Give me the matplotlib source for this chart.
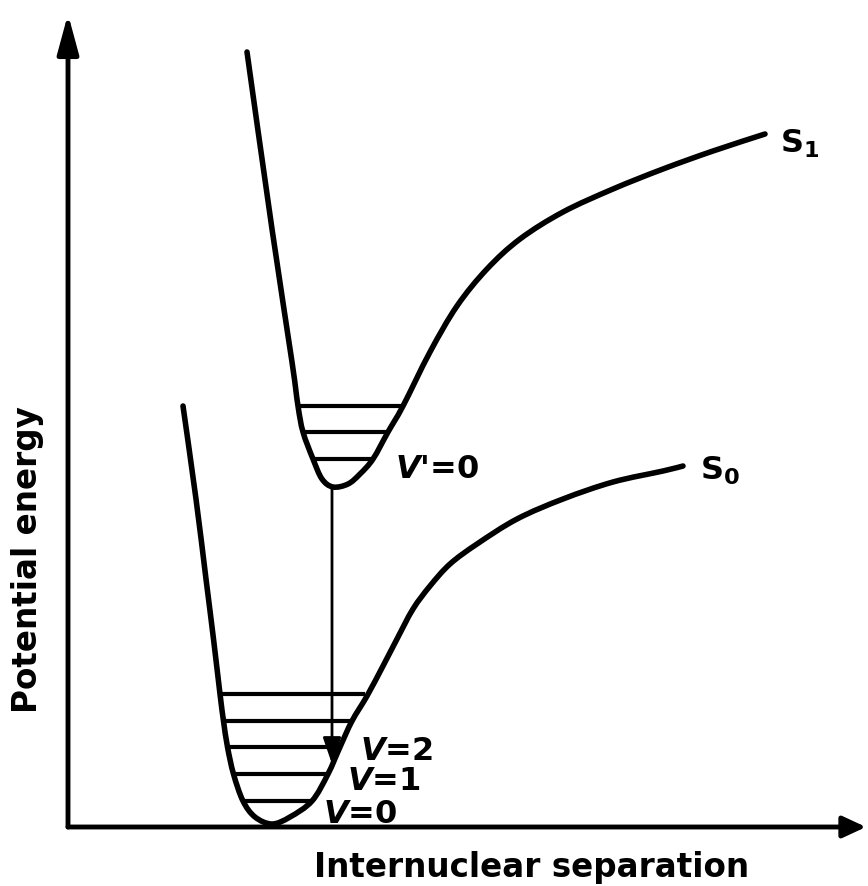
import numpy as np
import matplotlib
matplotlib.use("Agg")
import matplotlib.pyplot as plt
from matplotlib.path import Path
from matplotlib.patches import PathPatch

plt.rcParams["mathtext.fontset"] = "custom"
plt.rcParams["mathtext.it"] = "DejaVu Sans:italic:bold"
plt.rcParams["mathtext.rm"] = "DejaVu Sans:bold"

###############################################################################
# Potential energy curves (separation, energy), arbitrary units
s0_r = [1.15, 1.28, 1.38, 1.455, 1.52, 1.555, 1.595, 1.655, 1.75, 1.87,
        2.04, 2.22, 2.44, 2.60, 2.72, 2.84, 2.99, 3.15, 3.29, 3.45, 3.62,
        3.82, 4.09, 4.49, 4.95, 5.45, 5.95, 6.15]
s0_e = [4.21, 3.28, 2.48, 1.88, 1.33, 1.06, 0.80, 0.53, 0.26, 0.10, 0.03,
        0.10, 0.26, 0.53, 0.80, 1.06, 1.31, 1.61, 1.88, 2.18, 2.41, 2.63,
        2.83, 3.08, 3.28, 3.45, 3.56, 3.61]

s1_r = [1.79, 2.04, 2.24, 2.30, 2.35, 2.45, 2.54, 2.65, 2.80, 2.92, 3.05,
        3.20, 3.35, 3.62, 3.89, 4.19, 4.52, 4.95, 5.45, 5.95, 6.45, 6.97]
s1_e = [7.75, 5.98, 4.65, 4.21, 3.95, 3.68, 3.48, 3.40, 3.43, 3.53, 3.68,
        3.95, 4.21, 4.75, 5.21, 5.58, 5.88, 6.15, 6.38, 6.58, 6.76, 6.93]

# Vibrational levels: energy, left and right turning points
s0_levels = [0.26, 0.53, 0.80, 1.06, 1.33]
s0_left = [1.75, 1.655, 1.595, 1.555, 1.52]
s0_right = [2.44, 2.60, 2.72, 2.84, 2.97]

s1_levels = [3.68, 3.95, 4.21]
s1_left = [2.45, 2.35, 2.30]
s1_right = [3.05, 3.20, 3.35]

# Vertical transition from v'=0 down to v=2
trans_r = 2.64
trans_top = 3.40
trans_tip = 0.63


def smooth_path(xs, ys):
    # Catmull-Rom through the points, written as cubic Bezier segments
    p = np.column_stack([xs, ys]).astype(float)
    p = np.vstack([p[0], p, p[-1]])
    verts = [p[1]]
    codes = [Path.MOVETO]
    for i in range(1, len(p) - 2):
        c1 = p[i] + (p[i + 1] - p[i - 1]) / 6.0
        c2 = p[i + 1] - (p[i + 2] - p[i]) / 6.0
        verts += [c1, c2, p[i + 1]]
        codes += [Path.CURVE4] * 3
    return Path(verts, codes)


###############################################################################
fig = plt.figure(figsize=(8.68, 8.87), dpi=100)
ax = fig.add_axes([0, 0, 1, 1])
ax.set_xlim(-0.68, 8.0)
ax.set_ylim(-0.59, 8.28)
ax.axis("off")

for xs, ys in [(s0_r, s0_e), (s1_r, s1_e)]:
    ax.add_patch(PathPatch(smooth_path(xs, ys), facecolor="none",
                           edgecolor="black", lw=4, capstyle="round",
                           joinstyle="round"))
ax.hlines(s0_levels, s0_left, s0_right, color="black", lw=3)
ax.hlines(s1_levels, s1_left, s1_right, color="black", lw=3)

# axes with arrow heads
ax.annotate("", xy=(0, 8.13), xytext=(0, 0),
            arrowprops=dict(arrowstyle="-|>,head_length=24,head_width=6.5",
                            mutation_scale=1, lw=3.5, color="black",
                            shrinkA=0, shrinkB=0))
ax.annotate("", xy=(7.98, 0), xytext=(0, 0),
            arrowprops=dict(arrowstyle="-|>,head_length=14,head_width=6.5",
                            mutation_scale=1, lw=3.5, color="black",
                            shrinkA=0, shrinkB=0))
ax.annotate("", xy=(trans_r, trans_tip), xytext=(trans_r, trans_top),
            arrowprops=dict(arrowstyle="-|>,head_length=16,head_width=5.5",
                            mutation_scale=1, lw=2, color="black",
                            shrinkA=0, shrinkB=0))

###############################################################################
# Labels
lab = dict(color="black", fontweight="bold", fontsize=23.5)
ax.text(4.64, -0.49, "Internuclear separation", ha="center", va="baseline",
        **lab)
ax.text(-0.40, 2.68, "Potential energy", ha="center", va="center",
        rotation=90, **lab)

tag = dict(color="black", fontweight="bold", fontsize=23, ha="left",
           va="baseline")
ax.text(7.12, 6.75, r"S$_1$", **tag)
ax.text(6.32, 3.48, r"S$_0$", **tag)
ax.text(3.27, 3.50, r"$V$'=0", **tag)
ax.text(2.92, 0.68, r"$V$=2", **tag)
ax.text(2.79, 0.38, r"$V$=1", **tag)
ax.text(2.55, 0.05, r"$V$=0", **tag)

fig.savefig("out.png", dpi=100, facecolor="white")
